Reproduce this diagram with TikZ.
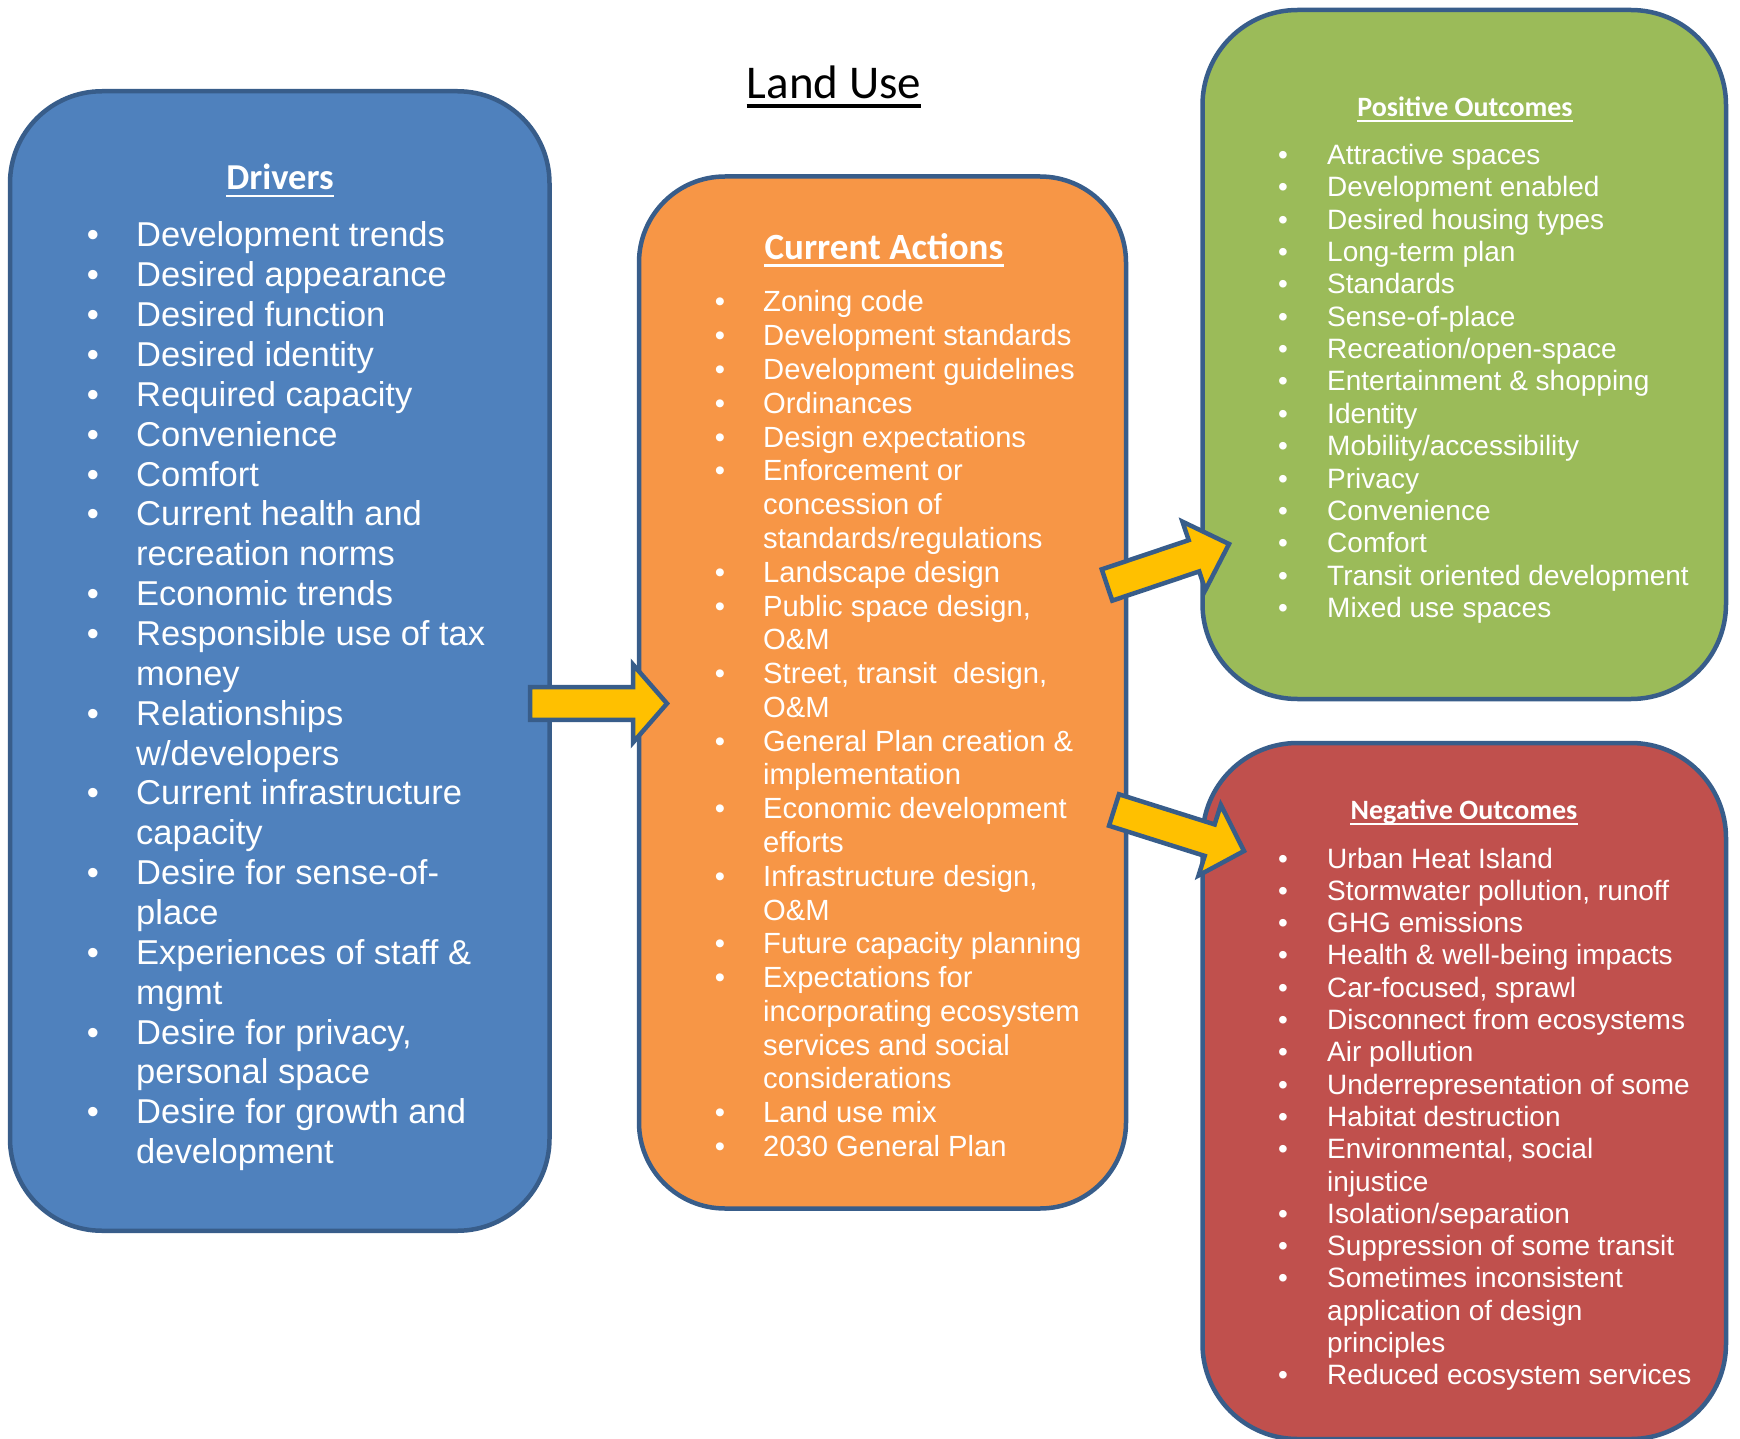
\documentclass[tikz,border=0pt]{standalone}
\usepackage{fontspec}
\setmainfont{Liberation Sans}
\newfontfamily\calibri{Carlito}
\usetikzlibrary{calc}
\definecolor{bluefill}{HTML}{4F81BD}
\definecolor{orangefill}{HTML}{F79646}
\definecolor{greenfill}{HTML}{9BBB59}
\definecolor{redfill}{HTML}{C0504D}
\definecolor{edgeblue}{HTML}{385D8A}
\definecolor{arrowyellow}{HTML}{FFC000}
\tikzset{
  panel/.style={draw=edgeblue, line width=4.5pt, rectangle, inner sep=0pt, outer sep=0pt},
  arr/.style={draw=edgeblue, fill=arrowyellow, line width=4.5pt, line join=miter},
  hd/.style={anchor=base, inner sep=0pt, text=white},
  itm/.style={anchor=base west, inner sep=0pt, text=white},
  bul/.style={anchor=base, inner sep=0pt, text=white},
  ul/.style={draw=white, line width=#1},
}
% name, bullet x, text x, first baseline, spacing, font, list
\newcommand\drawlist[7]{%
  \foreach [count=\i from 0] \isb/\txt in {#7} {
    \pgfmathsetmacro\yy{#4+\i*#5}
    \ifnum\isb=1 \node[bul,font=#6] (#1b\i) at (#2,\yy) {•};\fi
    \node[itm,font=#6] (#1\i) at (#3,\yy) {\txt};
  }%
}
% name, tail, tip, shaft half width, head half width, head length
\newcommand\blockarrow[6]{%
  \coordinate (#1hb) at ($(#3)!#6!(#2)$);
  \draw[arr] ($(#2)!#4!90:(#3)$) -- ($(#1hb)!#4!-90:(#2)$) -- ($(#1hb)!#5!-90:(#2)$)
    -- (#3) -- ($(#1hb)!#5!90:(#2)$) -- ($(#1hb)!#4!90:(#2)$) -- ($(#2)!#4!-90:(#3)$) -- cycle;
}
\begin{document}
\begin{tikzpicture}[x=1pt,y=-1pt]
\useasboundingbox (0,0) rectangle (1740,1439);
\fill[white] (0,0) rectangle (1740,1439);

% panels
\node[panel, fill=bluefill, rounded corners=92pt, minimum width=539.5pt, minimum height=1139.5pt] (drivers) at (279.75,661) {};
\node[panel, fill=orangefill, rounded corners=86pt, minimum width=487pt, minimum height=1032pt] (actions) at (882.5,692.5) {};
\node[panel, fill=greenfill, rounded corners=95pt, minimum width=523.5pt, minimum height=689pt] (pos) at (1464.25,354.5) {};
\node[panel, fill=redfill, rounded corners=95pt, minimum width=523.5pt, minimum height=696pt] (neg) at (1464.25,1091) {};

% title
\node[anchor=base, inner sep=0pt, font=\calibri\fontsize{47}{56}\selectfont] (title) at (834,99) {Land Use};
\draw[draw=black, line width=4pt] ([yshift=-7pt]title.base west) -- ([yshift=-7pt]title.base east);

% headings
\node[hd, font=\calibri\bfseries\fontsize{36.5}{44}\selectfont] (hdrv) at (280,190) {Drivers};
\draw[ul=2.6pt] ([yshift=-6pt]hdrv.base west) -- ([yshift=-6pt]hdrv.base east);
\node[hd, font=\calibri\bfseries\fontsize{37}{44}\selectfont] (hact) at (884,260) {Current Actions};
\draw[ul=2.6pt] ([yshift=-5.5pt]hact.base west) -- ([yshift=-5.5pt]hact.base east);
\node[hd, font=\calibri\bfseries\fontsize{28}{34}\selectfont] (hpos) at (1465,117) {Positive Outcomes};
\draw[ul=2pt] ([yshift=-4.5pt]hpos.base west) -- ([yshift=-4.5pt]hpos.base east);
\node[hd, font=\calibri\bfseries\fontsize{28}{34}\selectfont] (hneg) at (1464,819) {Negative Outcomes};
\draw[ul=2pt] ([yshift=-4.5pt]hneg.base west) -- ([yshift=-4.5pt]hneg.base east);

% lists
\drawlist{d}{93}{136}{247}{39.85}{\fontsize{34.5}{40}\selectfont}{
 1/{Development trends}, 1/{Desired appearance}, 1/{Desired function}, 1/{Desired identity},
 1/{Required capacity}, 1/{Convenience}, 1/{Comfort}, 1/{Current health and}, 0/{recreation norms},
 1/{Economic trends}, 1/{Responsible use of tax}, 0/{money}, 1/{Relationships}, 0/{w/developers},
 1/{Current infrastructure}, 0/{capacity}, 1/{Desire for sense-of-}, 0/{place},
 1/{Experiences of staff \&}, 0/{mgmt}, 1/{Desire for privacy,}, 0/{personal space},
 1/{Desire for growth and}, 0/{development}}

\drawlist{a}{720}{763}{312}{33.78}{\fontsize{29.2}{34}\selectfont}{
 1/{Zoning code}, 1/{Development standards}, 1/{Development guidelines}, 1/{Ordinances},
 1/{Design expectations}, 1/{Enforcement or}, 0/{concession of}, 0/{standards/regulations},
 1/{Landscape design}, 1/{Public space design,}, 0/{O\&M}, 1/{Street, transit~ design,}, 0/{O\&M},
 1/{General Plan creation \&}, 0/{implementation}, 1/{Economic development}, 0/{efforts},
 1/{Infrastructure design,}, 0/{O\&M}, 1/{Future capacity planning}, 1/{Expectations for},
 0/{incorporating ecosystem}, 0/{services and social}, 0/{considerations}, 1/{Land use mix},
 1/{2030 General Plan}}

\drawlist{p}{1283}{1327}{164.5}{32.35}{\fontsize{28}{32}\selectfont}{
 1/{Attractive spaces}, 1/{Development enabled}, 1/{Desired housing types}, 1/{Long-term plan},
 1/{Standards}, 1/{Sense-of-place}, 1/{Recreation/open-space}, 1/{Entertainment \& shopping},
 1/{Identity}, 1/{Mobility/accessibility}, 1/{Privacy}, 1/{Convenience}, 1/{Comfort},
 1/{Transit oriented development}, 1/{Mixed use spaces}}

\drawlist{n}{1283}{1327}{868}{32.3}{\fontsize{28}{32}\selectfont}{
 1/{Urban Heat Island}, 1/{Stormwater pollution, runoff}, 1/{GHG emissions},
 1/{Health \& well-being impacts}, 1/{Car-focused, sprawl}, 1/{Disconnect from ecosystems},
 1/{Air pollution}, 1/{Underrepresentation of some}, 1/{Habitat destruction},
 1/{Environmental, social}, 0/{injustice}, 1/{Isolation/separation},
 1/{Suppression of some transit}, 1/{Sometimes inconsistent}, 0/{application of design},
 0/{principles}, 1/{Reduced ecosystem services}}

% arrows
\coordinate (a1t) at (530,703.5);  \coordinate (a1h) at (667,703.5);
\coordinate (a2t) at (1107,585);   \coordinate (a2h) at (1229,544);
\coordinate (a3t) at (1114,810);   \coordinate (a3h) at (1244,851);
\blockarrow{x}{a1t}{a1h}{16.3pt}{39pt}{34pt}
\blockarrow{y}{a2t}{a2h}{16.5pt}{36pt}{37pt}
\blockarrow{z}{a3t}{a3h}{16.5pt}{37pt}{36pt}
\end{tikzpicture}
\end{document}
